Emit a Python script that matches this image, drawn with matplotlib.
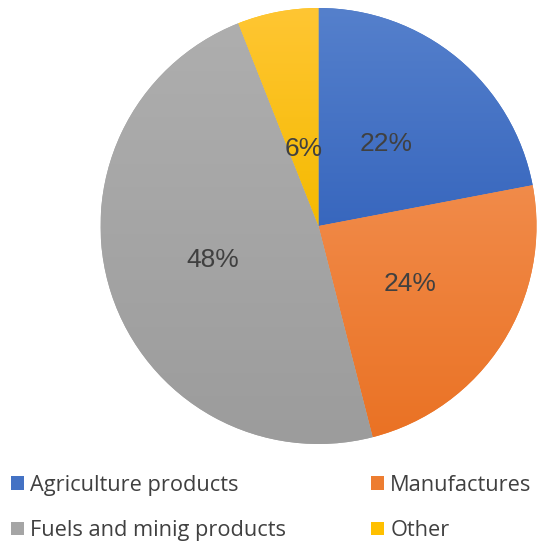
import matplotlib.pyplot as plt
import matplotlib.colors as mcolors
import numpy as np

labels = ["Agriculture products", "Manufactures", "Fuels and minig products", "Other"]
shares = [22, 24, 48, 6]
colors = ["#4472C4", "#ED7D31", "#A5A5A5", "#FFC000"]
top_colors = ["#5580CC", "#F18B4A", "#AEAEAE", "#FFC633"]
bottom_colors = ["#3867BE", "#EA7224", "#9C9C9C", "#F5BA00"]
label_dist = [0.49, 0.50, 0.51, 0.36]

fig = plt.figure(figsize=(5.55, 5.44), dpi=100)
ax = fig.add_axes([100.5 / 555, 100 / 544, 436 / 555, 436 / 544])

wedges, _ = ax.pie(shares, colors=colors, startangle=90, counterclock=False,
                   wedgeprops=dict(linewidth=0))

# soft top-to-bottom shading in each slice
for w, c_top, c_bot in zip(wedges, top_colors, bottom_colors):
    ext = w.get_path().get_extents()
    cmap = mcolors.LinearSegmentedColormap.from_list("g", [c_bot, c_top])
    grad = np.linspace(0, 1, 256).reshape(-1, 1)
    im = ax.imshow(grad, cmap=cmap, origin="lower", aspect="auto",
                   extent=[ext.x0, ext.x1, ext.y0, ext.y1], zorder=w.get_zorder())
    im.set_clip_path(w)
ax.set_xlim(-1, 1)
ax.set_ylim(-1, 1)
ax.set_aspect("equal")

# percentage labels at the wedge middles
for w, s, d in zip(wedges, shares, label_dist):
    mid = np.deg2rad((w.theta1 + w.theta2) / 2)
    ax.text(d * np.cos(mid), d * np.sin(mid), f"{s}%", ha="center", va="center",
            fontsize=19, color="#404040", family="Liberation Sans", zorder=5)

order = [0, 2, 1, 3]
fig.legend([wedges[i] for i in order], [labels[i] for i in order],
           ncol=2, loc="upper left", bbox_to_anchor=(0.0193, 0.127),
           frameon=False, handlelength=0.6, handleheight=0.6, handletextpad=0.28,
           columnspacing=3.9, labelspacing=1.11, borderpad=0, borderaxespad=0,
           prop=dict(family="Open Sans", size=15.7), labelcolor="#404040")

fig.savefig("out.png", dpi=100)
